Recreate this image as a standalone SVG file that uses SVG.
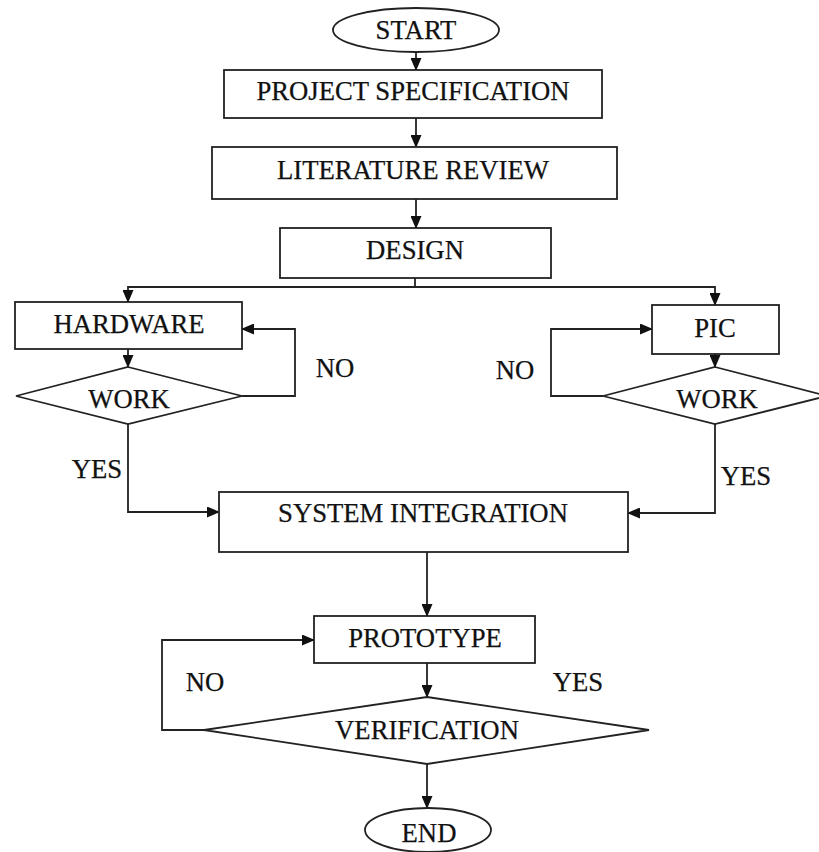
<svg xmlns="http://www.w3.org/2000/svg" width="819" height="852" viewBox="0 0 819 852">
<style>
.s{fill:#fff;stroke:#222;stroke-width:1.8}
.c{fill:none;stroke:#222;stroke-width:1.8}
text{font-family:"Liberation Serif","Times New Roman",serif;font-size:26.7px;fill:#111;stroke:#111;stroke-width:0.25;text-anchor:middle}
</style>
<defs>
<marker id="a" markerWidth="13" markerHeight="11" refX="12" refY="5.5" orient="auto" markerUnits="userSpaceOnUse">
<path d="M0,0 L13,5.5 L0,11 Z" fill="#111"/>
</marker>
</defs>
<rect width="819" height="852" fill="#fff"/>
<g id="connectors">
<path class="c" d="M416,52 V70" marker-end="url(#a)"/>
<path class="c" d="M416,118 V147" marker-end="url(#a)"/>
<path class="c" d="M416,199 V228" marker-end="url(#a)"/>
<path class="c" d="M415,278 V287"/>
<path class="c" d="M415,287 H128 V302" marker-end="url(#a)"/>
<path class="c" d="M415,287 H715 V305" marker-end="url(#a)"/>
<path class="c" d="M128,349 V367" marker-end="url(#a)"/>
<path class="c" d="M242,396 H295 V329 H242" marker-end="url(#a)"/>
<path class="c" d="M128,424 V512 H219" marker-end="url(#a)"/>
<path class="c" d="M715,354 V367" marker-end="url(#a)"/>
<path class="c" d="M603,396 H551 V329 H652" marker-end="url(#a)"/>
<path class="c" d="M715,424 V513 H628" marker-end="url(#a)"/>
<path class="c" d="M427,552 V616" marker-end="url(#a)"/>
<path class="c" d="M427,663 V697" marker-end="url(#a)"/>
<path class="c" d="M204,730 H162 V640 H314" marker-end="url(#a)"/>
<path class="c" d="M427,764 V808" marker-end="url(#a)"/>
</g>
<g id="start"><ellipse class="s" cx="416" cy="30" rx="83" ry="22"/><text x="416" y="39">START</text></g>
<g id="spec"><rect class="s" x="224" y="70" width="378" height="48"/><text x="413" y="100">PROJECT SPECIFICATION</text></g>
<g id="lit"><rect class="s" x="212" y="147" width="405" height="52"/><text x="413" y="179">LITERATURE REVIEW</text></g>
<g id="design"><rect class="s" x="280" y="228" width="271" height="50"/><text x="415" y="259">DESIGN</text></g>
<g id="hardware"><rect class="s" x="15" y="302" width="227" height="47"/><text x="129" y="333">HARDWARE</text></g>
<g id="work1"><polygon class="s" points="128,367 242,396 128,424 16,396"/><text x="129" y="408">WORK</text></g>
<g id="pic"><rect class="s" x="652" y="305" width="127" height="49"/><text x="715" y="337">PIC</text></g>
<g id="work2"><polygon class="s" points="715,367 827,396 715,424 603,396"/><text x="717" y="408">WORK</text></g>
<g id="sysint"><rect class="s" x="219" y="492" width="409" height="60"/><text x="423" y="522">SYSTEM INTEGRATION</text></g>
<g id="proto"><rect class="s" x="314" y="616" width="221" height="47"/><text x="425" y="647">PROTOTYPE</text></g>
<g id="verif"><polygon class="s" points="427,697 649,730 427,764 204,730"/><text x="427" y="739">VERIFICATION</text></g>
<g id="end"><ellipse class="s" cx="428" cy="830" rx="63" ry="22"/><text x="429" y="842">END</text></g>
<g id="labels">
<text x="335" y="377">NO</text>
<text x="97" y="478">YES</text>
<text x="515" y="379">NO</text>
<text x="746" y="485">YES</text>
<text x="205" y="691">NO</text>
<text x="578" y="691">YES</text>
</g>
</svg>
